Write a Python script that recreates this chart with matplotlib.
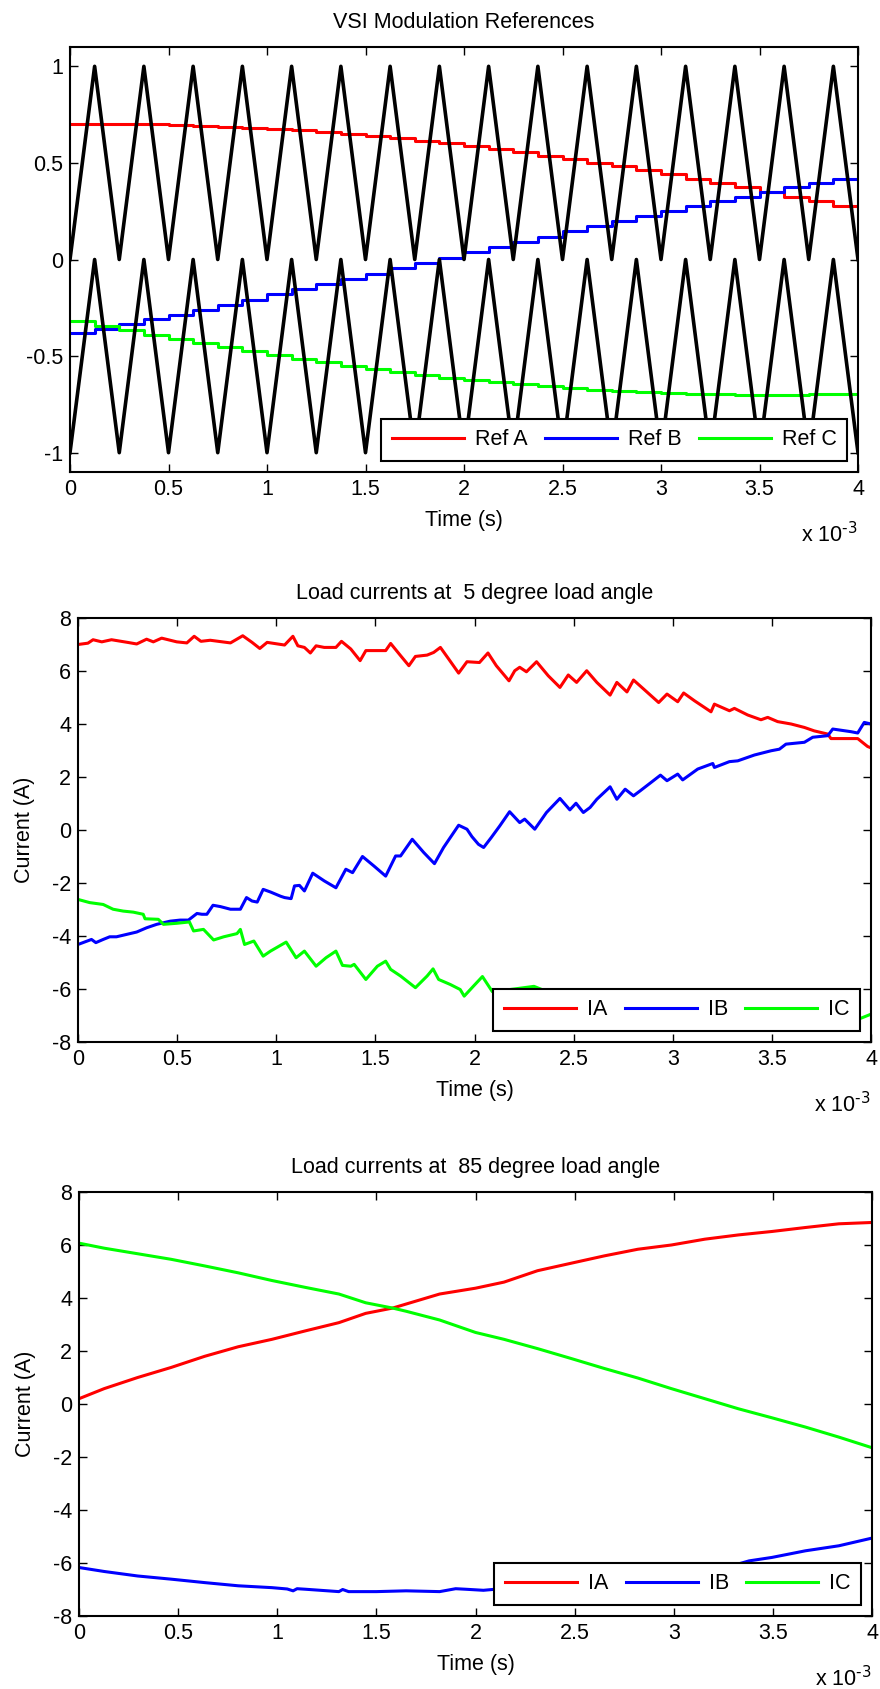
import matplotlib
matplotlib.use("Agg")
import matplotlib.pyplot as plt
from matplotlib.ticker import FuncFormatter
import numpy as np

plt.rcParams['font.family'] = ['Liberation Sans', 'DejaVu Sans']
plt.rcParams['axes.unicode_minus'] = False
plt.rcParams['mathtext.default'] = 'regular'

# ---- panel 1: modulation references (time in ms, sampled every 0.125 ms) ----
ref_t = [0, 0.125, 0.25, 0.375, 0.5, 0.625, 0.75, 0.875, 1.0, 1.125, 1.25, 1.375,
         1.5, 1.625, 1.75, 1.875, 2.0, 2.125, 2.25, 2.375, 2.5, 2.625, 2.75, 2.875,
         3.0, 3.125, 3.25, 3.375, 3.5, 3.625, 3.75, 3.875, 4.0]
ref_a = [0.699, 0.700, 0.700, 0.699, 0.696, 0.693, 0.688, 0.683, 0.676, 0.669, 0.660,
         0.650, 0.639, 0.628, 0.615, 0.602, 0.587, 0.572, 0.555, 0.538, 0.520, 0.501,
         0.482, 0.462, 0.441, 0.419, 0.396, 0.374, 0.350, 0.326, 0.301, 0.276, 0.276]
ref_b = [-0.381, -0.358, -0.334, -0.310, -0.285, -0.259, -0.234, -0.208, -0.181,
         -0.154, -0.128, -0.100, -0.073, -0.046, -0.018, 0.009, 0.037, 0.064, 0.091,
         0.119, 0.146, 0.172, 0.199, 0.225, 0.251, 0.276, 0.301, 0.326, 0.350, 0.374,
         0.396, 0.419, 0.419]
ref_c = [-0.318, -0.342, -0.366, -0.389, -0.411, -0.433, -0.455, -0.475, -0.495,
         -0.514, -0.532, -0.550, -0.566, -0.582, -0.597, -0.611, -0.624, -0.636, -0.647,
         -0.657, -0.666, -0.674, -0.681, -0.687, -0.691, -0.695, -0.698, -0.699, -0.700,
         -0.699, -0.698, -0.695, -0.695]
# triangle carriers (vertices)
carrier_upper = [0, 1, 0, 1, 0, 1, 0, 1, 0, 1, 0, 1, 0, 1, 0, 1, 0,
                 1, 0, 1, 0, 1, 0, 1, 0, 1, 0, 1, 0, 1, 0, 1, 0]
carrier_lower = [-1, 0, -1, 0, -1, 0, -1, 0, -1, 0, -1, 0, -1, 0, -1, 0, -1,
                 0, -1, 0, -1, 0, -1, 0, -1, 0, -1, 0, -1, 0, -1, 0, -1]

# ---- panel 2: load currents, 5 degree ----
ia5_t = [0, 0.05, 0.076, 0.12, 0.169, 0.25, 0.296, 0.346, 0.38, 0.422, 0.498, 0.549,
         0.586, 0.62, 0.667, 0.769, 0.831, 0.878, 0.917, 0.954, 1.042, 1.084, 1.109,
         1.142, 1.172, 1.201, 1.242, 1.301, 1.329, 1.376, 1.423, 1.452, 1.552, 1.577,
         1.627, 1.669, 1.702, 1.761, 1.794, 1.828, 1.870, 1.920, 1.962, 2.025, 2.068,
         2.110, 2.174, 2.203, 2.228, 2.262, 2.313, 2.372, 2.431, 2.473, 2.515, 2.566,
         2.617, 2.684, 2.718, 2.769, 2.802, 2.853, 2.929, 2.971, 3.025, 3.055, 3.109,
         3.193, 3.210, 3.286, 3.311, 3.378, 3.445, 3.479, 3.529, 3.597, 3.664, 3.714,
         3.782, 3.798, 3.933, 3.983, 4.0]
ia5 = [7.0, 7.05, 7.18, 7.1, 7.18, 7.08, 7.02, 7.2, 7.1, 7.24, 7.1, 7.06,
       7.31, 7.12, 7.16, 7.06, 7.33, 7.08, 6.85, 7.08, 6.98, 7.31, 6.95,
       6.89, 6.68, 6.95, 6.89, 6.89, 7.12, 6.83, 6.39, 6.77, 6.77, 7.04,
       6.58, 6.20, 6.55, 6.60, 6.70, 6.89, 6.45, 5.92, 6.35, 6.32, 6.68,
       6.20, 5.63, 6.01, 6.14, 5.97, 6.35, 5.82, 5.38, 5.85, 5.57, 6.01,
       5.57, 5.09, 5.57, 5.21, 5.66, 5.32, 4.81, 5.13, 4.84, 5.17, 4.88,
       4.46, 4.75, 4.50, 4.59, 4.34, 4.16, 4.25, 4.09, 4.0, 3.87, 3.74,
       3.62, 3.45, 3.45, 3.15, 3.1]
ib5_t = [0, 0.025, 0.068, 0.090, 0.127, 0.160, 0.194, 0.245, 0.296, 0.346, 0.397,
         0.465, 0.515, 0.557, 0.600, 0.625, 0.650, 0.681, 0.718, 0.769, 0.819, 0.850,
         0.878, 0.904, 0.934, 0.971, 1.022, 1.042, 1.075, 1.092, 1.117, 1.142, 1.184,
         1.242, 1.301, 1.351, 1.385, 1.435, 1.493, 1.552, 1.602, 1.627, 1.686, 1.744,
         1.798, 1.844, 1.920, 1.962, 1.987, 2.020, 2.046, 2.084, 2.127, 2.177, 2.228,
         2.253, 2.304, 2.363, 2.431, 2.481, 2.512, 2.549, 2.583, 2.617, 2.684, 2.718,
         2.760, 2.802, 2.836, 2.895, 2.938, 2.971, 3.025, 3.050, 3.126, 3.202, 3.210,
         3.286, 3.328, 3.412, 3.496, 3.538, 3.571, 3.664, 3.706, 3.782, 3.807, 3.899,
         3.933, 3.966, 4.0]
ib5 = [-4.32, -4.25, -4.13, -4.25, -4.13, -4.03, -4.03, -3.94, -3.85, -3.69, -3.56,
       -3.44, -3.40, -3.40, -3.15, -3.18, -3.18, -2.84, -2.89, -2.99, -2.99, -2.55,
       -2.68, -2.72, -2.24, -2.34, -2.50, -2.55, -2.59, -2.11, -2.09, -2.30, -1.63,
       -1.92, -2.18, -1.48, -1.61, -1.0, -1.36, -1.74, -0.98, -0.98, -0.35, -0.85,
       -1.27, -0.66, 0.18, 0.03, -0.25, -0.54, -0.66, -0.29, 0.15, 0.69, 0.28,
       0.41, 0.03, 0.66, 1.19, 0.76, 1.01, 0.66, 0.85, 1.16, 1.63, 1.16,
       1.54, 1.29, 1.48, 1.82, 2.07, 1.86, 2.11, 1.89, 2.30, 2.51, 2.36,
       2.58, 2.61, 2.83, 2.99, 3.05, 3.24, 3.31, 3.50, 3.56, 3.81, 3.71,
       3.66, 4.06, 4.0]
ic5_t = [0, 0.059, 0.127, 0.177, 0.228, 0.279, 0.329, 0.338, 0.405, 0.431, 0.498,
         0.562, 0.583, 0.633, 0.684, 0.735, 0.802, 0.819, 0.840, 0.887, 0.934, 0.971,
         1.050, 1.100, 1.142, 1.201, 1.251, 1.301, 1.334, 1.376, 1.393, 1.452, 1.510,
         1.552, 1.577, 1.627, 1.702, 1.761, 1.791, 1.819, 1.878, 1.928, 1.948, 1.995,
         2.040, 2.090, 2.2, 2.3, 2.5, 2.75, 3.0, 3.25, 3.5, 3.75, 3.95, 4.0]
ic5 = [-2.62, -2.74, -2.81, -2.99, -3.06, -3.10, -3.18, -3.35, -3.37, -3.56, -3.52,
       -3.47, -3.81, -3.75, -4.15, -4.03, -3.91, -3.75, -4.32, -4.19, -4.76, -4.57,
       -4.23, -4.82, -4.57, -5.14, -4.82, -4.57, -5.11, -5.14, -5.07, -5.64, -5.14,
       -4.95, -5.26, -5.51, -5.95, -5.51, -5.24, -5.64, -5.83, -6.02, -6.27, -5.89,
       -5.53, -6.1, -6.0, -5.9, -6.5, -6.7, -6.85, -6.95, -7.0, -7.05, -7.1, -6.95]

# ---- panel 3: load currents, 85 degree ----
ia85_t = [0, 0.127, 0.296, 0.465, 0.634, 0.803, 0.973, 1.142, 1.311, 1.446, 1.582,
          1.819, 2.0, 2.144, 2.313, 2.481, 2.650, 2.819, 2.988, 3.157, 3.326, 3.495,
          3.664, 3.833, 4.0]
ia85 = [0.2, 0.58, 1.0, 1.38, 1.80, 2.16, 2.44, 2.76, 3.07, 3.42, 3.62,
        4.15, 4.37, 4.6, 5.03, 5.31, 5.59, 5.84, 6.0, 6.22, 6.38, 6.51,
        6.66, 6.80, 6.85]
ib85_t = [0, 0.127, 0.296, 0.465, 0.634, 0.803, 0.973, 1.05, 1.08, 1.1, 1.142, 1.311,
          1.33, 1.36, 1.5, 1.65, 1.819, 1.9, 1.95, 2.04, 2.1, 2.5, 2.75, 3.0, 3.25,
          3.38, 3.495, 3.664, 3.833, 4.0]
ib85 = [-6.17, -6.32, -6.49, -6.61, -6.74, -6.86, -6.93, -6.98, -7.05, -6.97, -6.99,
        -7.08, -7.0, -7.08, -7.08, -7.05, -7.08, -6.97, -6.99, -7.03, -6.99, -6.95,
        -6.8, -6.55, -6.2, -5.92, -5.79, -5.54, -5.35, -5.06]
ic85_t = [0, 0.127, 0.296, 0.465, 0.634, 0.803, 0.973, 1.142, 1.311, 1.446, 1.582,
          1.650, 1.819, 2.0, 2.144, 2.313, 2.481, 2.650, 2.819, 2.988, 3.157, 3.326,
          3.495, 3.664, 3.833, 4.0]
ic85 = [6.07, 5.88, 5.67, 5.46, 5.21, 4.95, 4.66, 4.4, 4.15, 3.82, 3.62,
        3.5, 3.17, 2.7, 2.44, 2.09, 1.72, 1.34, 0.98, 0.58, 0.2, -0.18,
        -0.52, -0.87, -1.25, -1.65]

RED, BLUE, GREEN = '#ff0000', '#0000ff', '#00ff00'
FS = 15.5
W, H = 880, 1689
fmt = FuncFormatter(lambda v, p: '%g' % v)

fig = plt.figure(figsize=(W / 100, H / 100), dpi=100)


def make_axes(left, top, right, bottom):
    ax = fig.add_axes([left / W, 1 - bottom / H, (right - left) / W, (bottom - top) / H])
    ax.set_xlim(0, 4)
    ax.set_xticks(np.arange(0, 4.01, 0.5))
    ax.xaxis.set_major_formatter(fmt)
    ax.yaxis.set_major_formatter(fmt)
    ax.tick_params(direction='in', top=True, right=True, length=6, width=1,
                   labelsize=FS, pad=5)
    for s in ax.spines.values():
        s.set_linewidth(1.5)
    h = bottom - top
    ax.xaxis.set_label_coords(0.5, -38 / h)
    ax.set_xlabel('Time (s)', fontsize=FS, va='top')
    ax.text(1.0, -70 / h, r'x 10$^{\text{-3}}$', transform=ax.transAxes, ha='right',
            va='baseline', fontsize=FS)
    return ax


def add_legend(ax, labels):
    leg = ax.legend(labels, loc='lower right', ncol=3, fontsize=FS, fancybox=False,
                    framealpha=1, edgecolor='black', handlelength=3.35,
                    handletextpad=0.5, columnspacing=0.8, borderaxespad=0.5,
                    borderpad=0.5)
    leg.get_frame().set_linewidth(1.5)


# panel 1
ax1 = make_axes(70, 47, 858, 472)
ax1.step(ref_t, ref_a, where='post', color=RED, lw=2.2)
ax1.step(ref_t, ref_b, where='post', color=BLUE, lw=2.2)
ax1.step(ref_t, ref_c, where='post', color=GREEN, lw=2.2)
ax1.plot(ref_t, carrier_upper, color='black', lw=2.6)
ax1.plot(ref_t, carrier_lower, color='black', lw=2.6)
ax1.set_ylim(-1.1, 1.1)
ax1.set_yticks([-1, -0.5, 0, 0.5, 1])
ax1.set_title('VSI Modulation References', fontsize=FS, pad=14)
add_legend(ax1, ['Ref A', 'Ref B', 'Ref C'])

# panel 2
ax2 = make_axes(78, 618, 871, 1042)
ax2.plot(ia5_t, ia5, color=RED, lw=2.2)
ax2.plot(ib5_t, ib5, color=BLUE, lw=2.2)
ax2.plot(ic5_t, ic5, color=GREEN, lw=2.2)
ax2.set_ylim(-8, 8)
ax2.set_yticks(range(-8, 9, 2))
ax2.set_title('Load currents at  5 degree load angle', fontsize=FS, pad=14)
ax2.set_ylabel('Current (A)', fontsize=FS)
ax2.yaxis.set_label_coords(-43 / 793, 0.5)
add_legend(ax2, ['IA', 'IB', 'IC'])

# panel 3
ax3 = make_axes(79, 1192, 872, 1616)
ax3.plot(ia85_t, ia85, color=RED, lw=2.2)
ax3.plot(ib85_t, ib85, color=BLUE, lw=2.2)
ax3.plot(ic85_t, ic85, color=GREEN, lw=2.2)
ax3.set_ylim(-8, 8)
ax3.set_yticks(range(-8, 9, 2))
ax3.set_title('Load currents at  85 degree load angle', fontsize=FS, pad=14)
ax3.set_ylabel('Current (A)', fontsize=FS)
ax3.yaxis.set_label_coords(-43 / 793, 0.5)
add_legend(ax3, ['IA', 'IB', 'IC'])

fig.savefig('out.png', dpi=100)
